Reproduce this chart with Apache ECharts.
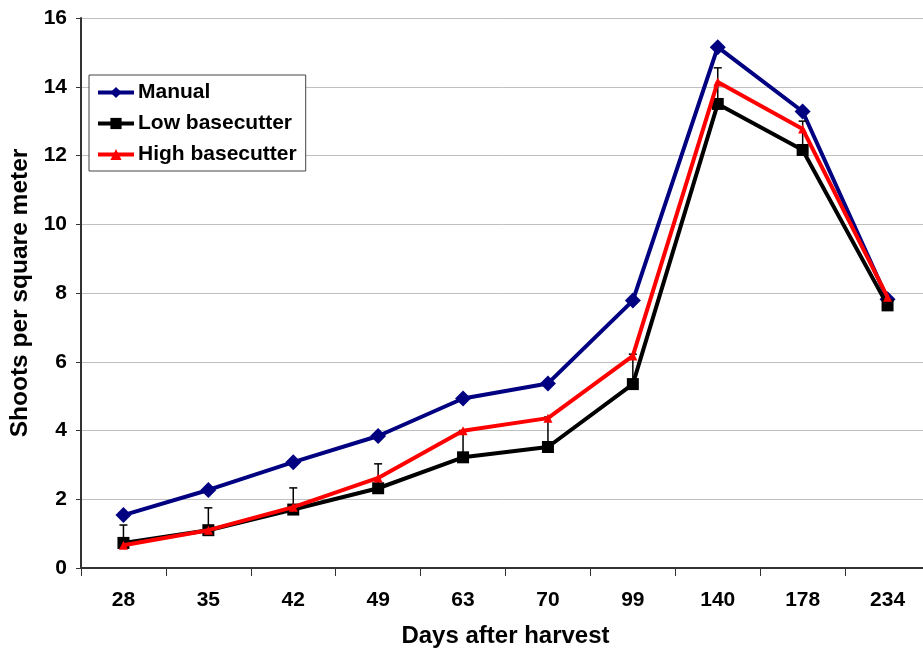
<!DOCTYPE html>
<html>
<head>
<meta charset="utf-8">
<script src="https://cdn.jsdelivr.net/npm/echarts@6/dist/echarts.min.js"></script>
<style>
  html, body { margin: 0; padding: 0; background: #fff; }
  #chart { width: 923px; height: 653px; }
</style>
</head>
<body>
<div id="chart"></div>
<script>
// days after harvest
var days = ['28', '35', '42', '49', '63', '70', '99', '140', '178', '234'];

// shoots per square meter
var manual = [1.54, 2.27, 3.08, 3.84, 4.93, 5.37, 7.78, 15.15, 13.28, 7.82];
var lowBase = [0.73, 1.10, 1.70, 2.32, 3.22, 3.52, 5.35, 13.50, 12.16, 7.64];
var highBase = [0.66, 1.10, 1.77, 2.62, 3.99, 4.36, 6.17, 14.14, 12.77, 7.88];
// top of the error bar on the low basecutter line
var errTop = [1.25, 1.75, 2.33, 3.03, 4.00, 4.39, 6.22, 14.55, 13.00, 7.64];

var FONT = 'Liberation Sans, Arial, sans-serif';

var errData = [];
for (var i = 0; i < days.length; i++) {
    errData.push([i, lowBase[i], errTop[i]]);
}

var chart = echarts.init(document.getElementById('chart'));

var option = {
    animation: false,
    backgroundColor: '#fff',
    grid: {
        left: 81,
        right: -7,
        top: 18,
        bottom: 85,
        containLabel: false,
        outerBoundsMode: 'none'
    },
    legend: {
        orient: 'vertical',
        left: 89,
        top: 75,
        padding: [7, 9, 6, 7],
        itemWidth: 36,
        itemHeight: 14,
        itemGap: 10,
        backgroundColor: '#fff',
        borderColor: '#444',
        borderWidth: 1,
        lineStyle: { width: 4 },
        textStyle: {
            fontFamily: FONT,
            fontWeight: 'bold',
            fontSize: 21,
            color: '#000',
            padding: [0, 0, 0, -1]
        },
        data: ['Manual', 'Low basecutter', 'High basecutter']
    },
    xAxis: {
        type: 'category',
        data: days,
        boundaryGap: true,
        name: 'Days after harvest',
        nameLocation: 'middle',
        nameGap: 68,
        nameTextStyle: {
            fontFamily: FONT,
            fontWeight: 'bold',
            fontSize: 24,
            color: '#000',
            verticalAlign: 'middle'
        },
        axisLine: { lineStyle: { color: '#333', width: 2 } },
        axisTick: { show: true, length: 8, alignWithLabel: false, lineStyle: { color: '#333', width: 1 } },
        axisLabel: {
            margin: 22,
            fontFamily: FONT,
            fontWeight: 'bold',
            fontSize: 21,
            color: '#000'
        },
        splitLine: { show: false }
    },
    yAxis: {
        type: 'value',
        min: 0,
        max: 16,
        interval: 2,
        name: 'Shoots per square meter',
        nameLocation: 'middle',
        nameGap: 60,
        nameTextStyle: {
            fontFamily: FONT,
            fontWeight: 'bold',
            fontSize: 24.5,
            color: '#000',
            verticalAlign: 'middle'
        },
        axisLine: { show: true, lineStyle: { color: '#333', width: 2 } },
        axisTick: { show: true, length: 5, lineStyle: { color: '#333', width: 1 } },
        axisLabel: {
            margin: 14,
            fontFamily: FONT,
            fontWeight: 'bold',
            fontSize: 21,
            color: '#000'
        },
        splitLine: { show: true, lineStyle: { color: '#c0c0c0', width: 1 } }
    },
    series: [
        {
            name: 'Manual',
            type: 'line',
            data: manual,
            symbol: 'diamond',
            symbolSize: 16,
            color: '#000080',
            lineStyle: { width: 4, color: '#000080' },
            itemStyle: { color: '#000080' },
            z: 2
        },
        {
            name: 'Low basecutter',
            type: 'line',
            data: lowBase,
            symbol: 'rect',
            symbolSize: 12,
            color: '#000',
            lineStyle: { width: 4, color: '#000' },
            itemStyle: { color: '#000' },
            z: 3
        },
        {
            name: 'errors',
            type: 'custom',
            data: errData,
            encode: { x: 0, y: [1, 2] },
            z: 4,
            silent: true,
            renderItem: function (params, api) {
                var bottom = api.coord([api.value(0), api.value(1)]);
                var top = api.coord([api.value(0), api.value(2)]);
                var st = { stroke: '#000', lineWidth: 1.5 };
                return {
                    type: 'group',
                    children: [
                        { type: 'line', shape: { x1: bottom[0], y1: bottom[1], x2: top[0], y2: top[1] }, style: st },
                        { type: 'line', shape: { x1: top[0] - 4, y1: top[1], x2: top[0] + 4, y2: top[1] }, style: st }
                    ]
                };
            }
        },
        {
            name: 'High basecutter',
            type: 'line',
            data: highBase,
            symbol: 'triangle',
            symbolSize: 9,
            color: '#ff0000',
            lineStyle: { width: 4, color: '#ff0000' },
            itemStyle: { color: '#ff0000' },
            z: 5
        }
    ]
};

chart.setOption(option);
</script>
</body>
</html>
